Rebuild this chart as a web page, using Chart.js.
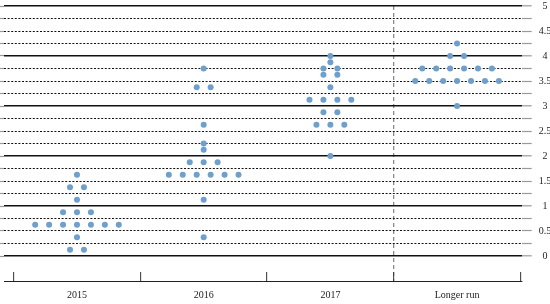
<!DOCTYPE html>
<html>
<head>
<meta charset="utf-8">
<script src="https://cdn.jsdelivr.net/npm/chart.js@4.4.0/dist/chart.umd.min.js"></script>
<style>
  html, body { margin: 0; padding: 0; background: #fff; }
  #wrap { width: 550px; height: 304px; }
</style>
</head>
<body>
<div id="wrap"><canvas id="dot_chart"></canvas></div>
<script>
const categories = ['2015', '2016', '2017', 'Longer run'];

// one value per participant (percent)
const rates2015 = [1.625, 1.375, 1.375, 1.125, 0.875, 0.875, 0.875,
    0.625, 0.625, 0.625, 0.625, 0.625, 0.625, 0.625, 0.375, 0.125, 0.125];
const rates2016 = [3.75, 3.375, 3.375, 2.625, 2.25, 2.125, 1.875, 1.875, 1.875,
    1.625, 1.625, 1.625, 1.625, 1.625, 1.625, 1.125, 0.375];
const rates2017 = [4.0, 3.875, 3.75, 3.75, 3.625, 3.625, 3.375, 3.125, 3.125, 3.125, 3.125,
    2.875, 2.875, 2.625, 2.625, 2.625, 2.0];
const ratesLongerRun = [4.25, 4.0, 4.0, 3.75, 3.75, 3.75, 3.75, 3.75, 3.75,
    3.5, 3.5, 3.5, 3.5, 3.5, 3.5, 3.5, 3.0];

const yMin = -0.5, yMax = 5, yStep = 0.25;
const xMin = -0.576, xMax = 3.51;
const dotStep = 0.11; // horizontal gap between dots sharing a value
const boundaryTicks = [-0.5, 0.5, 1.5, 2.5, 3.5];
const dashedBoundary = 2.5;

// spread dots with the same value side by side around the category centre
function buildPoints(values, catIndex) {
    const counts = {};
    values.forEach(v => { counts[v] = (counts[v] || 0) + 1; });
    const pts = [];
    Object.keys(counts).forEach(k => {
        const n = counts[k];
        for (let j = 0; j < n; j++) {
            pts.push({ x: catIndex + (j - (n - 1) / 2) * dotStep, y: Number(k) });
        }
    });
    return pts;
}

const allRates = [rates2015, rates2016, rates2017, ratesLongerRun];
const dotColor = '#6f9fcb';
const serif = { family: "'Liberation Serif', 'DejaVu Serif', serif", size: 10 };

function isWhole(v) { return Math.abs(v - Math.round(v)) < 1e-6; }

new Chart(document.getElementById('dot_chart'), {
    type: 'scatter',
    data: {
        datasets: allRates.map((r, i) => ({
            label: categories[i],
            data: buildPoints(r, i),
            backgroundColor: dotColor,
            borderWidth: 0,
            pointRadius: 3,
            pointHoverRadius: 3
        }))
    },
    options: {
        responsive: true,
        maintainAspectRatio: false,
        animation: false,
        layout: { padding: { top: 6, left: 0, right: 0, bottom: 0 } },
        plugins: { legend: { display: false }, tooltip: { enabled: false } },
        scales: {
            x: {
                type: 'linear', position: 'bottom', min: xMin, max: xMax, weight: 0,
                afterBuildTicks: s => { s.ticks = boundaryTicks.map(v => ({ value: v })); },
                afterFit: s => { s.height = 0; },
                ticks: { display: false },
                grid: {
                    color: ctx => (ctx.tick && ctx.tick.value === dashedBoundary) ? '#8a8a8a' : 'rgba(0,0,0,0)',
                    lineWidth: 1.3,
                    tickLength: -9,
                    tickColor: '#333',
                    tickWidth: 1
                },
                border: {
                    display: true, color: '#222', width: 1,
                    dash: ctx => (ctx.tick && ctx.tick.value === dashedBoundary) ? [4, 3] : []
                }
            },
            xl: {
                type: 'linear', position: 'bottom', min: xMin, max: xMax, weight: 1,
                afterBuildTicks: s => { s.ticks = categories.map((c, i) => ({ value: i })); },
                afterFit: s => { s.height = 23; },
                ticks: {
                    autoSkip: false, maxRotation: 0, padding: 8,
                    color: '#222', font: serif,
                    callback: v => categories[v]
                },
                grid: { drawOnChartArea: false, drawTicks: false },
                border: { display: false }
            },
            y: {
                type: 'linear', position: 'right', min: yMin, max: yMax, z: 1,
                afterFit: s => { s.width = 28.3; s.paddingTop = 0; s.paddingBottom = 0; },
                ticks: {
                    stepSize: yStep, autoSkip: false, padding: 7, crossAlign: 'center',
                    color: '#222', font: serif,
                    callback: v => (v >= 0 && isWhole(v * 2)) ? String(v) : ''
                },
                grid: {
                    color: ctx => (ctx.tick && ctx.tick.value >= 0) ? '#111' : 'rgba(0,0,0,0)',
                    lineWidth: ctx => (ctx.tick && isWhole(ctx.tick.value)) ? 1.6 : 1,
                    tickLength: 10,
                    tickColor: ctx => (ctx.tick && ctx.tick.value >= 0) ? '#9a9a9a' : 'rgba(0,0,0,0)',
                    tickWidth: 1.2,
                    tickBorderDash: []
                },
                border: {
                    display: false,
                    dash: ctx => (ctx.tick && !isWhole(ctx.tick.value)) ? [2, 1.6] : []
                }
            },
            yl: {
                type: 'linear', position: 'left', min: yMin, max: yMax,
                afterFit: s => { s.width = 4; s.paddingTop = 0; s.paddingBottom = 0; },
                ticks: { stepSize: yStep, autoSkip: false, display: false },
                grid: {
                    drawOnChartArea: false,
                    tickLength: 4,
                    tickColor: ctx => (ctx.tick && ctx.tick.value >= 0) ? '#9a9a9a' : 'rgba(0,0,0,0)',
                    tickWidth: 1.2
                },
                border: { display: false }
            }
        }
    }
});
</script>
</body>
</html>
